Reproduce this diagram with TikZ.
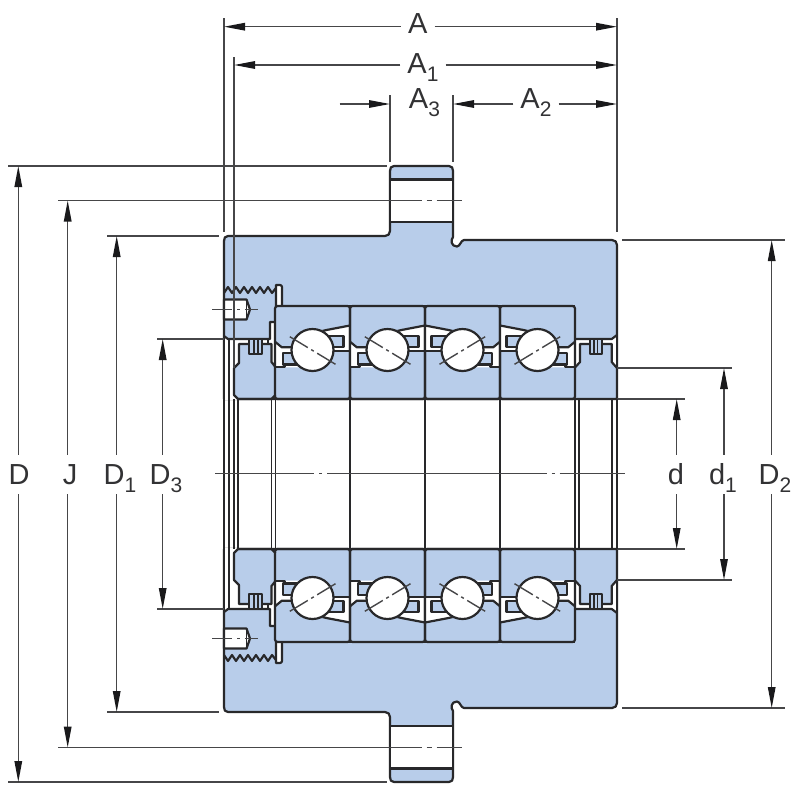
\documentclass[tikz,border=0pt]{standalone}
\usepackage{fontspec}
\setmainfont{Liberation Sans}
\usepackage{tikz}
\usetikzlibrary{arrows.meta}
\newcommand{\lowsub}[1]{\raisebox{-8pt}{\fontsize{21}{21}\selectfont #1}}

\begin{document}
\begin{tikzpicture}[x=1pt,y=1pt,yscale=-1,xscale=1,
  hsg/.style={draw={rgb, 255:red, 40; green, 40; blue, 42 },fill={rgb, 255:red, 184; green, 205; blue, 234 },line width=2.2,line join=round},
  edge/.style={draw={rgb, 255:red, 40; green, 40; blue, 42 },line width=2.2,line join=round},
  thinline/.style={draw={rgb, 255:red, 70; green, 70; blue, 72 },line width=1.4},
  dimline/.style={thinline,-{Triangle[length=21pt,width=7.5pt,color={rgb, 255:red, 25; green, 25; blue, 27 }]}},
  dimlabel/.style={font=\fontsize{29}{29}\selectfont,text={rgb, 255:red, 50; green, 50; blue, 52 },anchor=base,inner xsep=7pt,inner ysep=8pt,text height=21pt,text depth=2pt}]
\useasboundingbox (0,0) rectangle (800,790);

%upper half, then the same again mirrored about y=474
\foreach \oy/\sy in {0/1,948/-1}{
\begin{scope}[shift={(0,\oy)},yscale=\sy]
%Shape: Housing
\draw[hsg] (224,399) -- (224,241) .. controls (224,238) and (225,236) .. (228,236) -- (385,236) .. controls (388,236) and (390,234) .. (390,231) -- (390,171) .. controls (390,168) and (391,166) .. (394,166) -- (449,166) .. controls (452,166) and (453,168) .. (453,171) -- (453,237) .. controls (450.5,240) and (451,246.5) .. (457,246.5) .. controls (460,246.5) and (461,240) .. (464,240) -- (612,240) .. controls (615,240) and (617,242) .. (617,245) -- (617,399) -- cycle;
%Shape: Flange hole
\draw[edge,fill=white] (390,179.5) rectangle (453,222);
%Shape: Screw hole
\draw[edge,fill=white] (224,299.5) -- (246.5,299.5) -- (250,309.5) -- (246.5,319.5) -- (224,319.5) -- cycle;
\draw[edge,line width=1] (246.5,299.5) -- (246.5,319.5);
%Shape: Thread
\draw[edge] (224,293) -- (228,287) -- (232,293) -- (236,287) -- (240,293) -- (244,287) -- (248,293) -- (252,287) -- (256,293) -- (260,287) -- (264,293) -- (268,287) -- (272,293) -- (276,288);
%Shape: Left ring channel
\fill[white] (224,336) -- (228,339) -- (270,339) -- (270,322) -- (275.5,322) -- (275.5,367) -- (271.5,362) -- (271.5,344) -- (239,344) -- (239,363) -- (234,368) -- (234,395) -- (238,399) -- (238,400) -- (224,400) -- cycle;
\draw[edge] (224,336) -- (228,339) -- (270,339) -- (270,322) -- (275.5,322);
\draw[edge] (275.5,367) -- (271.5,362) -- (271.5,344) -- (239,344) -- (239,363) -- (234,368) -- (234,395) -- (238,399) -- (271.5,399) -- (275.5,395);
\draw[edge] (268,339) -- (268,344);
\draw[edge] (224,336) -- (224,399) (229,340) -- (229,399);
%Shape: Left labyrinth
\draw[hsg] (249,339) rectangle (262,354);
\draw[edge,line width=1.4] (254,339) -- (254,354) (258,339) -- (258,354);
%Shape: Right ring channel
\fill[white] (575.5,339) -- (611.7,339) -- (617,335) -- (617,368) -- (611.7,362) -- (611.7,344) -- (580,344) -- (580,362) -- (575.5,367) -- cycle;
\draw[edge] (575.5,339) -- (611.7,339) -- (617,335);
\draw[edge] (617,368) -- (611.7,362) -- (611.7,344) -- (580,344) -- (580,362) -- (575.5,367);
\draw[edge] (579,399) -- (613,399);
\draw[edge] (617,335) -- (617,399);
%Shape: Right labyrinth
\draw[hsg] (590,339) rectangle (601.7,354);
\draw[edge,line width=1.4] (594,339) -- (594,354) (597.7,339) -- (597.7,354);
%Shape: Retaining plate
\draw[edge,fill=white] (276,306) -- (276,285) -- (280,285) .. controls (281,285) and (282,286) .. (282,287) -- (282,306);
%four bearings, the last two turned round
\foreach \cx/\fx in {312.5/1,387.5/1,462.5/-1,537.5/-1}{
\begin{scope}[shift={(\cx,350)},xscale=\fx]
\fill[white] (10,-19) -- (14,-20) -- (37.5,-24.5) -- (37.5,1) -- (10,1) -- cycle;
\draw[edge] (10,-19) -- (14,-20) -- (37.5,-24.5);
\draw[edge] (10,1) -- (37.5,1);
\draw[hsg] (15,-14) -- (31,-14) -- (31,-3) -- (15,-3);
\fill[white] (-37.5,-8.3) -- (-30.7,-2.7) -- (-10,-2.7) -- (-10,17.3) -- (-37.5,17.3) -- cycle;
\draw[edge] (-37.5,-8.3) -- (-30.7,-2.7) -- (-10,-2.7);
\draw[edge] (-37.5,17.3) -- (-28,17.3) -- (-28,14.5) -- (-10,14.5);
\draw[hsg] (-10,3.3) -- (-29.5,3.3) -- (-29.5,14.5) -- (-10,14.5);
%Shape: Ball
\draw[edge,fill=white] (0,0) circle (21);
\draw[thinline,dash pattern=on 21pt off 4pt on 3pt off 4pt on 22pt] (-22.7,-13.3) -- (23,14.3);
%Shape: Bearing ring outline
\draw[edge,rounded corners=2.5] (-37.5,-44) rectangle (37.5,49);
\end{scope}
}
\draw[edge,line width=2.8] (275,306) -- (575,306);
%extension lines
\draw[thinline] (8,166) -- (387,166);
\draw[thinline,dash pattern=on 363.5pt off 5pt on 5pt off 5pt on 25pt] (58,200.5) -- (462,200.5);
\draw[thinline] (107,236) -- (219,236);
\draw[thinline] (157,339) -- (224,339);
\draw[thinline] (622,240) -- (785,240);
\draw[thinline] (617,368) -- (732,368);
\draw[thinline] (617,399) -- (685,399);
\draw[thinline,dash pattern=on 20pt off 5pt on 3pt off 5pt on 13pt] (212,309.5) -- (258,309.5);
\end{scope}
}

%lines of the bore
\foreach \xb in {224,229,234,238,271.5,275.5,350,425,500,575,579,611.7,617}{
\draw[edge,line width=1.9] (\xb,399) -- (\xb,549);
}
%upper ends of the width lines
\draw[thinline] (234,57) -- (234,368);
\draw[thinline] (224,18) -- (224,232);
\draw[thinline] (617,18) -- (617,232);
\draw[thinline] (390,95) -- (390,162);
\draw[thinline] (453,95) -- (453,162);
%centre line
\draw[thinline,dash pattern=on 99pt off 5pt on 3pt off 5pt on 219.7pt off 5pt on 3pt off 5pt on 65.3pt] (215,473.7) -- (625,473.7);

% Text Node
\node[dimlabel] (labA) at (417.7,33) {A};
\node[dimlabel] (labAone) at (423,73) {A\lowsub{1}};
\node[dimlabel] (labAthree) at (424.5,108) {A\lowsub{3}};
\node[dimlabel] (labAtwo) at (536,108) {A\lowsub{2}};
\node[dimlabel] (labD) at (19,484) {D};
\node[dimlabel] (labJ) at (70,484) {J};
\node[dimlabel] (labDone) at (120,484) {D\lowsub{1}};
\node[dimlabel] (labDthree) at (166,484) {D\lowsub{3}};
\node[dimlabel] (labd) at (676,484) {d};
\node[dimlabel] (labdone) at (723,484) {d\lowsub{1}};
\node[dimlabel] (labDtwo) at (775,484) {D\lowsub{2}};

\coordinate (Aleft) at (224,26.7);
\coordinate (Aright) at (617,26.7);
\coordinate (Aoneleft) at (234,65);
\coordinate (Aoneright) at (617,65);
\coordinate (Atwoleft) at (453,104);
\coordinate (Atworight) at (617,104);
\coordinate (Athreefree) at (339.5,104);
\coordinate (Athreetip) at (390,104);
\coordinate (Dtop) at (18.3,166);
\coordinate (Dbot) at (18.3,782);
\coordinate (Jtop) at (67.7,200.5);
\coordinate (Jbot) at (67.7,747.5);
\coordinate (Donetop) at (116.7,236);
\coordinate (Donebot) at (116.7,712);
\coordinate (Dthreetop) at (162.7,339);
\coordinate (Dthreebot) at (162.7,609);
\coordinate (dtop) at (676.7,399);
\coordinate (dbot) at (676.7,549);
\coordinate (donetop) at (724,368);
\coordinate (donebot) at (724,580);
\coordinate (Dtwotop) at (771.7,240);
\coordinate (Dtwobot) at (771.7,708);

\draw[dimline] (labA.west |- Aleft) -- (Aleft);
\draw[dimline] (labA.east |- Aright) -- (Aright);
\draw[dimline] (labAone.west |- Aoneleft) -- (Aoneleft);
\draw[dimline] (labAone.east |- Aoneright) -- (Aoneright);
\draw[dimline] (labAtwo.west |- Atwoleft) -- (Atwoleft);
\draw[dimline] (labAtwo.east |- Atworight) -- (Atworight);
\draw[dimline] (Athreefree) -- (Athreetip);
\foreach \lab/\tip in {labD/D,labJ/J,labDone/Done,labDthree/Dthree,labd/d,labdone/done,labDtwo/Dtwo}{
\draw[dimline] (\lab.north -| \tip top) -- (\tip top);
\draw[dimline] (\lab.south -| \tip bot) -- (\tip bot);
}

\end{tikzpicture}
\end{document}
